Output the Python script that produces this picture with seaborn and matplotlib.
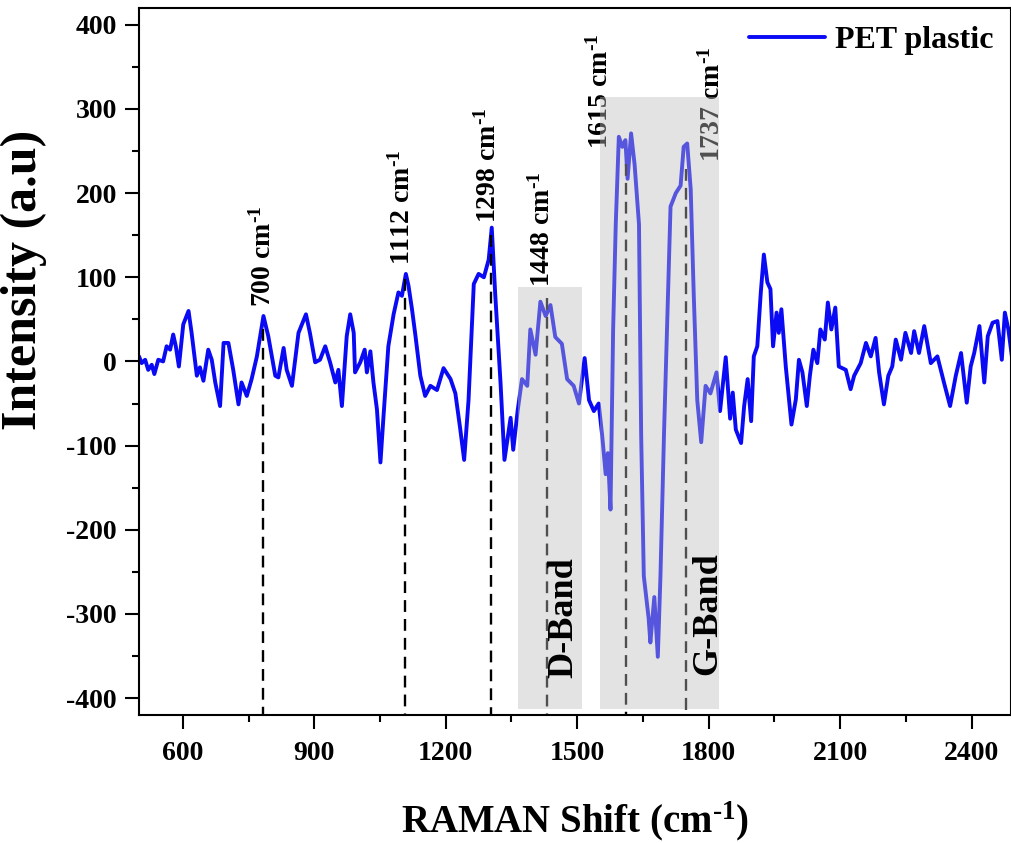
import pandas as pd
import seaborn as sns
import matplotlib.pyplot as plt
from matplotlib.ticker import MultipleLocator

# Raman spectrum
raman_shift = [500, 506, 514, 521, 529, 535, 544, 555, 563, 571, 578, 584, 591, 601, 613, 620,
               632, 639, 647, 658, 666, 674, 685, 693, 704, 715, 727, 734, 746, 757, 769, 784,
               795, 811, 818, 830, 837, 849, 864, 881, 890, 902, 913, 925, 936, 948, 955, 963,
               974, 982, 990, 993, 1005, 1015, 1020, 1028, 1035, 1043, 1051, 1058, 1069, 1081,
               1092, 1100, 1109, 1115, 1123, 1131, 1142, 1153, 1165, 1180, 1195, 1211, 1222,
               1233, 1242, 1252, 1264, 1275, 1287, 1298, 1305, 1313, 1325, 1334, 1348, 1354,
               1364, 1374, 1386, 1393, 1405, 1416, 1428, 1439, 1450, 1465, 1477, 1492, 1504,
               1517, 1527, 1538, 1549, 1557, 1565, 1570, 1576, 1582, 1588, 1595, 1603, 1610,
               1615, 1623, 1631, 1641, 1646, 1652, 1663, 1667, 1676, 1684, 1690, 1698, 1705,
               1713, 1725, 1736, 1743, 1751, 1759, 1766, 1774, 1783, 1793, 1804, 1818, 1826,
               1839, 1849, 1855, 1862, 1874, 1881, 1889, 1897, 1903, 1911, 1919, 1926, 1934,
               1941, 1947, 1955, 1960, 1966, 1976, 1989, 1999, 2006, 2014, 2024, 2031, 2039,
               2048, 2055, 2065, 2072, 2080, 2089, 2097, 2113, 2124, 2132, 2147, 2159, 2170,
               2181, 2189, 2200, 2210, 2219, 2227, 2239, 2249, 2262, 2269, 2280, 2292, 2307,
               2322, 2337, 2351, 2364, 2376, 2389, 2398, 2406, 2418, 2429, 2437, 2448, 2459,
               2469, 2476, 2484, 2492]
intensity = [6, -2, 2, -10, -4, -15, 2, 0, 18, 14, 32, 18, -6, 44, 60, 34,
             -17, -7, -23, 14, 2, -25, -53, 22, 22, -10, -51, -25, -41, -21, 6, 54,
             30, -17, -19, 16, -10, -29, 34, 56, 34, -1, 2, 18, -1, -25, -10, -53,
             30, 56, 34, -13, -1, 14, -13, 12, -25, -57, -120, -65, 18, 56,
             82, 78, 104, 90, 62, 30, -17, -41, -29, -34, -8, -21, -38,
             -80, -117, -46, 92, 104, 100, 121, 159, 79, -25, -117, -67, -105,
             -59, -21, -29, 38, 8, 71, 54, 67, 29, 21, -21, -29, -50,
             4, -46, -59, -50, -88, -134, -109, -176, 38, 163, 267, 255, 263,
             217, 271, 234, 163, -88, -255, -305, -334, -280, -351, -255, -88, 38,
             184, 200, 209, 255, 259, 205, 79, -46, -96, -29, -38, -13, -59,
             5, -68, -37, -81, -97, -53, -21, -71, 6, 18, 82, 127, 94,
             86, 18, 58, 34, 62, -6, -75, -45, 2, -13, -53, -17, 14,
             -2, 38, 26, 70, 38, 64, -6, -10, -33, -17, -2, 22, 6,
             28, -13, -51, -17, -6, 26, 2, 34, 10, 36, 10, 42, -2,
             6, -25, -53, -17, 10, -49, -6, 10, 42, -25, 30, 46, 48,
             2, 58, 38, 6]

# peak markers
peak_labels = ['700', '1112', '1298', '1448', '1615', '1737']
peak_pos = [783, 1108, 1304, 1430, 1612, 1748]
peak_top = [38, 98, 150, 75, 235, 229]
label_x = [783, 1101, 1297, 1421, 1553, 1809]
label_y = [65, 115, 165, 89, 252, 237]

# shaded bands
band_names = ['D-Band', 'G-Band']
band_left = [1366, 1551]
band_right = [1510, 1823]
band_top = [88, 314]
band_bottom = -413
band_text_x = [1469, 1797]
band_text_y = [-376, -373]

sns.set_theme(style='ticks')
plt.rcParams['font.family'] = ['Liberation Serif', 'DejaVu Serif']
plt.rcParams['font.weight'] = 'bold'
plt.rcParams['text.color'] = 'black'
plt.rcParams['axes.labelcolor'] = 'black'
plt.rcParams['axes.unicode_minus'] = False
plt.rcParams['mathtext.fontset'] = 'custom'
plt.rcParams['mathtext.rm'] = 'Liberation Serif:bold'
plt.rcParams['mathtext.it'] = 'Liberation Serif:bold'
plt.rcParams['mathtext.bf'] = 'Liberation Serif:bold'

inv_cm = 'cm$^{\u2010 1}$'

fig = plt.figure(figsize=(10.11, 8.43), dpi=100)
ax = fig.add_axes([0.1375, 0.152, 0.8625, 0.8385])

df = pd.DataFrame({'shift': raman_shift, 'intensity': intensity})
sns.lineplot(data=df, x='shift', y='intensity', color='#0a0af5', lw=2.8,
             ax=ax, label='PET plastic', zorder=2, sort=False)

# dashed peak lines
for p, t in zip(peak_pos, peak_top):
    ax.plot([p, p], [t, -420], color='black', lw=1.7, ls=(0, (5, 3)), zorder=3)

# peak labels (under the shading)
for lab, lx, ly in zip(peak_labels, label_x, label_y):
    ax.text(lx, ly, lab + ' ' + inv_cm, rotation=90, ha='center', va='bottom',
            fontsize=20, fontweight='bold', color='black', zorder=1)

# grey bands
for l, r, t in zip(band_left, band_right, band_top):
    ax.fill_between([l, r], band_bottom, t, color='#bebebe', alpha=0.42,
                    lw=0, zorder=4)

for name, bx, by in zip(band_names, band_text_x, band_text_y):
    ax.text(bx, by, name, rotation=90, ha='center', va='bottom',
            fontsize=26, fontweight='bold', color='black', zorder=5)

ax.set_xlim(500, 2490)
ax.set_ylim(-420, 420)
ax.xaxis.set_minor_locator(MultipleLocator(150))
ax.yaxis.set_major_locator(MultipleLocator(100))
ax.yaxis.set_minor_locator(MultipleLocator(50))
ax.set_xticks(range(600, 2401, 300))

ax.tick_params(which='major', direction='out', length=10, width=1.5,
               labelsize=20, color='black', labelcolor='black')
ax.tick_params(axis='x', which='major', pad=9)
ax.tick_params(axis='y', which='major', pad=6)
ax.tick_params(which='minor', direction='out', length=5, width=1.5, color='black')
for s in ax.spines.values():
    s.set_linewidth(1.5)
    s.set_color('black')

ax.set_xlabel('RAMAN Shift (' + inv_cm + ')', fontsize=28, fontweight='bold', labelpad=24)
ax.set_ylabel('Intensity (a.u)', fontsize=36, fontweight='bold')
ax.yaxis.set_label_coords(-0.106, 0.615)

leg = ax.legend(loc='upper right', frameon=False, fontsize=23, handlelength=2.4,
                handletextpad=0.3, borderaxespad=0.15)
for t in leg.get_texts():
    t.set_color('black')

plt.savefig('out.png', dpi=100)
